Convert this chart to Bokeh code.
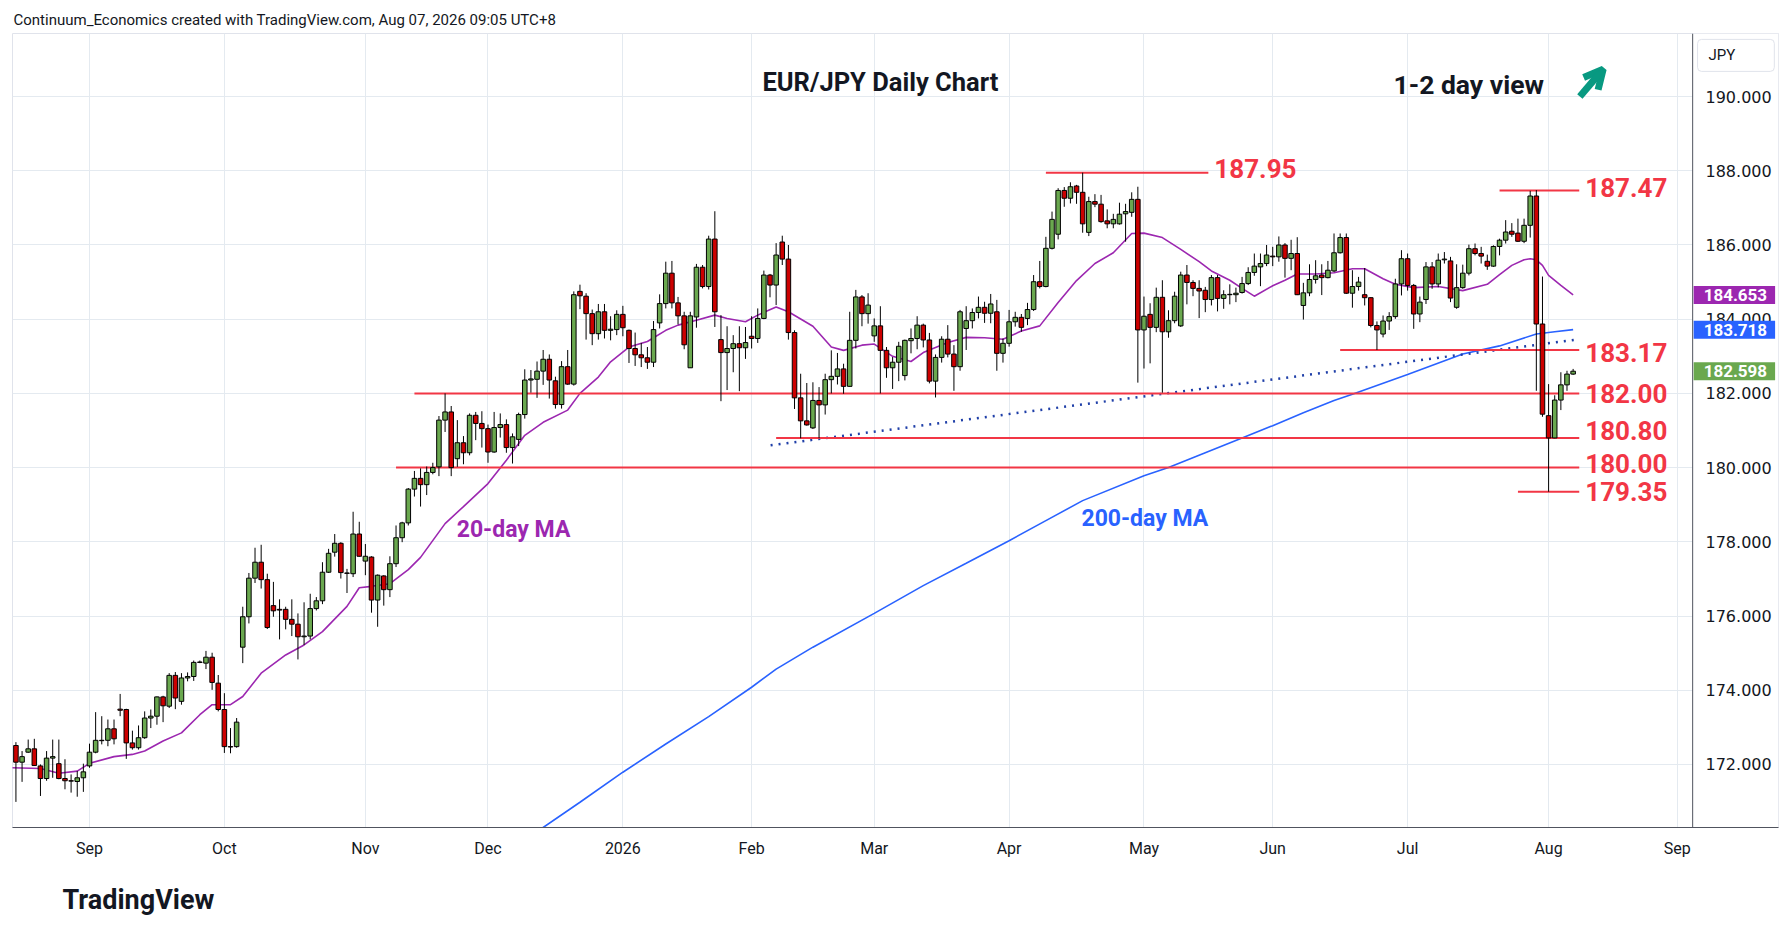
import pandas as pd
from bokeh.plotting import figure
from bokeh.models import (Range1d, FixedTicker, NumeralTickFormatter, Label, Arrow,
                          OpenHead, ColumnDataSource, BoxAnnotation, Span, Title)
from bokeh.core.properties import value
from bokeh.embed import file_html
from bokeh.resources import INLINE

# ---------------- data ----------------
holidays = ["2025-12-25", "2026-01-01"]
calendar = [d.strftime("%Y-%m-%d") for d in pd.bdate_range("2025-08-14", "2026-09-30")
            if d.strftime("%Y-%m-%d") not in holidays]

opens = [
    172.51, 172.06, 172.33, 172.42, 171.96, 171.62, 172.17, 172.02, 171.62, 171.56, 171.54, 171.64,
    171.96, 172.33, 172.65, 172.65, 172.96, 173.49, 173.48, 172.58, 172.45, 172.72, 173.25, 173.30,
    173.82, 173.57, 174.40, 173.70, 174.33, 174.37, 174.75, 174.73, 174.89, 174.19, 173.48, 172.48, 172.48,
    175.16, 175.98, 177.02, 177.45, 176.98, 176.28, 176.18, 176.18, 175.91, 175.78, 175.44, 175.46,
    176.20, 176.41, 177.18, 177.72, 177.96, 177.16, 177.14, 178.21, 177.48, 177.59, 176.43, 177.08,
    176.71, 177.41, 178.11, 178.51, 179.42, 179.71, 179.54, 179.87,
    180.02, 181.28, 181.50, 180.24, 180.67, 180.40, 181.41, 181.19, 181.05, 180.42, 181.08, 181.16,
    180.54, 180.76, 181.43, 182.36, 182.38, 182.60, 182.92, 182.34, 181.70, 182.72, 182.25, 184.75,
    184.62, 184.15, 183.61,
    184.20, 183.70, 183.72, 184.13, 183.70, 183.21, 183.04, 182.96, 182.84, 183.90, 184.42, 185.24,
    184.44, 184.09, 182.69, 184.06, 185.40, 184.88, 186.16, 183.45, 183.10, 183.21, 183.34, 183.23,
    183.54, 183.48, 184.02, 185.19, 184.92, 186.08, 185.62, 183.64, 181.88, 181.26, 181.07, 181.81,
    181.69, 182.37, 182.46, 182.66, 182.19, 183.43, 184.60, 184.15, 183.55, 183.82, 183.16, 182.69,
    182.84, 182.48,
    183.42, 183.48, 183.84, 183.44, 182.33, 182.97, 183.46, 183.06, 182.72, 183.75, 183.96, 184.18,
    184.32, 184.16, 184.20, 183.08, 183.35, 183.93, 184.05, 184.02, 184.26, 185.01, 184.88, 185.91,
    186.29, 187.47, 187.26, 187.59, 187.42, 186.34, 187.17, 187.10, 186.65, 186.57, 186.57, 186.84,
    186.88, 187.23, 183.71, 184.13, 183.78, 184.59, 183.66, 183.96, 183.82,
    185.19, 184.99, 184.83, 184.78, 184.53, 185.12, 184.56, 184.66, 184.66, 184.72, 184.96, 185.26,
    185.41, 185.50, 185.70, 185.68, 186.00, 185.64, 185.77, 184.37, 184.71, 185.07, 185.19, 185.12,
    185.30, 185.79, 186.20, 184.70, 184.88, 184.66, 184.58, 183.83, 183.60, 183.95, 184.07, 184.95,
    185.63, 184.91, 184.14, 184.53, 185.41, 184.95, 185.60, 185.57, 184.32, 184.85, 185.24, 185.90,
    185.77, 185.56, 185.43, 185.96, 186.13, 186.37, 186.32, 186.10, 186.53, 187.32, 183.87, 181.40,
    180.80, 181.82, 182.23, 182.52]

highs = [
    172.60, 172.36, 172.67, 172.69, 172.00, 172.36, 172.67, 172.67, 172.14, 171.73, 171.82, 172.02,
    172.56, 173.41, 173.30, 173.21, 173.21, 173.90, 173.50, 172.91, 173.05, 173.43, 173.48, 173.83,
    173.85, 174.46, 174.49, 174.46, 174.48, 174.80, 174.80, 175.06, 175.01, 174.41, 173.92, 172.98, 173.25,
    176.25, 177.16, 177.84, 177.92, 177.14, 176.92, 176.45, 176.25, 176.45, 176.07, 176.37, 176.60,
    176.51, 177.45, 177.81, 178.21, 177.99, 177.27, 178.81, 178.54, 177.94, 177.61, 177.12, 177.10,
    177.61, 178.44, 178.54, 179.45, 179.91, 179.98, 180.03, 180.13,
    181.39, 182.00, 181.66, 181.28, 180.85, 181.46, 181.50, 181.52, 181.16, 181.50, 181.46, 181.30,
    180.92, 181.48, 182.65, 182.63, 182.86, 183.17, 183.05, 182.45, 182.87, 183.17, 184.75, 184.93,
    184.70, 184.26, 184.41,
    184.41, 184.08, 184.24, 184.36, 183.72, 183.64, 183.36, 183.25, 183.95, 184.67, 185.55, 185.57,
    184.60, 184.20, 184.20, 185.49, 185.46, 186.25, 186.91, 184.11, 183.81, 183.57, 183.81, 183.79,
    184.08, 184.29, 185.31, 185.22, 186.05, 186.25, 186.00, 183.70, 182.53, 182.28, 182.30, 182.17,
    182.53, 183.16, 183.09, 182.80, 184.20, 184.79, 184.65, 184.70, 184.02, 184.35, 183.25, 182.98,
    183.39, 183.45,
    183.75, 184.08, 183.88, 183.63, 183.05, 183.54, 183.84, 183.30, 184.25, 184.35, 184.29, 184.61,
    184.47, 184.68, 184.52, 183.48, 184.25, 184.20, 184.14, 184.44, 185.19, 185.57, 186.22, 186.90,
    187.53, 187.56, 187.69, 187.62, 187.95, 187.30, 187.37, 187.35, 186.96, 186.84, 187.14, 187.11,
    187.42, 187.57, 184.61, 184.43, 184.85, 185.05, 184.24, 184.74, 185.28,
    185.46, 185.05, 185.05, 184.87, 185.19, 185.19, 184.78, 184.94, 184.85, 185.14, 185.40, 185.77,
    185.77, 186.00, 185.95, 186.23, 186.05, 186.14, 186.21, 184.98, 185.48, 185.59, 185.48, 185.57,
    186.31, 186.31, 186.31, 185.32, 185.14, 185.38, 184.59, 183.94, 184.10, 184.19, 185.09, 185.86,
    185.77, 184.95, 184.61, 185.54, 185.54, 185.77, 185.81, 185.68, 185.48, 185.47, 186.01, 186.04,
    185.95, 185.74, 185.99, 186.17, 186.67, 186.59, 186.71, 186.71, 187.46, 187.48, 185.15, 182.25,
    181.95, 182.57, 182.61, 182.66]

lows = [
    170.99, 171.53, 172.31, 171.96, 171.15, 171.56, 171.64, 171.60, 171.33, 171.24, 171.13, 171.26,
    171.91, 172.30, 172.54, 172.49, 172.54, 173.30, 172.15, 172.40, 172.40, 172.69, 172.98, 173.07,
    173.14, 173.52, 173.49, 173.61, 174.24, 174.25, 174.73, 174.57, 174.01, 173.43, 172.31, 172.30, 172.45,
    174.73, 175.80, 176.89, 176.74, 175.65, 175.98, 175.37, 175.64, 175.46, 174.83, 175.22, 175.37,
    176.15, 176.32, 177.16, 177.60, 177.01, 176.62, 177.05, 177.60, 177.10, 176.09, 175.71, 176.28,
    176.51, 177.32, 177.99, 178.44, 179.22, 178.95, 179.26, 179.82,
    179.77, 180.96, 179.77, 180.02, 180.09, 180.33, 180.74, 180.54, 180.13, 180.40, 180.81, 180.40,
    180.11, 180.58, 181.32, 182.02, 181.88, 182.23, 181.86, 181.59, 181.59, 182.23, 182.21, 184.27,
    183.45, 183.30, 183.45,
    183.48, 183.43, 183.57, 183.54, 182.82, 182.74, 182.71, 182.66, 182.71, 183.75, 184.29, 184.29,
    183.86, 183.19, 182.69, 183.77, 184.83, 184.80, 183.79, 181.79, 182.09, 182.57, 182.06, 182.93,
    183.21, 183.36, 184.00, 184.59, 184.38, 185.46, 183.45, 181.58, 180.79, 181.13, 181.04, 180.79,
    181.43, 182.00, 182.24, 181.99, 182.18, 183.21, 183.81, 183.88, 183.39, 182.00, 182.42, 182.12,
    182.33, 182.35,
    183.08, 183.19, 183.24, 182.27, 181.89, 182.83, 182.97, 182.07, 182.61, 183.17, 183.75, 184.02,
    183.90, 183.89, 182.61, 182.83, 183.26, 183.80, 183.66, 183.84, 184.22, 184.83, 184.86, 185.88,
    186.15, 187.03, 187.12, 187.11, 186.33, 186.24, 187.02, 186.60, 186.45, 186.45, 186.55, 186.09,
    186.76, 182.29, 182.67, 182.81, 183.65, 182.02, 183.50, 183.89, 183.79,
    184.40, 184.62, 184.03, 184.19, 184.37, 184.21, 184.28, 184.40, 184.46, 184.69, 184.92, 185.17,
    184.89, 185.43, 185.43, 185.55, 185.12, 185.32, 184.65, 183.99, 184.62, 184.96, 184.65, 185.10,
    185.27, 185.77, 184.68, 184.31, 184.77, 184.37, 183.78, 183.17, 183.51, 183.71, 184.01, 184.64,
    184.77, 183.74, 183.92, 184.41, 184.82, 184.86, 185.50, 184.46, 184.28, 184.82, 185.18, 185.72,
    185.50, 185.33, 185.41, 185.72, 186.04, 186.22, 186.08, 186.05, 186.20, 182.07, 181.37, 179.35,
    180.79, 181.55, 182.07, 182.50]

closes = [
    172.06, 172.21, 172.42, 171.97, 171.62, 172.17, 172.21, 171.62, 171.56, 171.55, 171.64, 171.80,
    172.33, 172.65, 172.64, 172.96, 172.69, 173.46, 172.58, 172.45, 172.72, 173.25, 173.30, 173.82,
    173.58, 174.40, 173.79, 174.33, 174.37, 174.75, 174.76, 174.89, 174.21, 173.48, 172.48, 172.47, 173.14,
    175.98, 177.02, 177.45, 176.98, 175.69, 176.14, 176.16, 175.91, 175.78, 175.44, 175.46, 176.20,
    176.41, 177.18, 177.69, 177.96, 177.17, 177.15, 178.21, 177.61, 177.61, 176.43, 177.10, 176.71,
    177.41, 178.11, 178.51, 179.42, 179.71, 179.54, 179.87, 180.00,
    181.28, 181.50, 180.00, 180.67, 180.40, 181.41, 181.19, 181.05, 180.42, 181.08, 181.16, 180.54,
    180.83, 181.43, 182.36, 182.39, 182.60, 182.92, 182.36, 181.70, 182.72, 182.25, 184.66, 184.63,
    184.15, 183.61, 184.20,
    183.70, 183.73, 184.13, 183.77, 183.21, 183.04, 182.96, 182.84, 183.72, 184.42, 185.24, 184.44,
    184.09, 183.31, 184.09, 185.40, 184.88, 186.16, 184.20, 183.10, 183.21, 183.34, 183.23, 183.37,
    183.48, 184.02, 185.19, 184.92, 185.73, 185.62, 183.64, 181.88, 181.26, 181.15, 181.81, 181.69,
    182.37, 182.46, 182.66, 182.19, 183.43, 184.60, 184.15, 184.38, 183.82, 183.16, 182.69, 182.84,
    183.27, 183.43,
    183.48, 183.84, 183.44, 182.33, 182.97, 183.46, 183.06, 182.72, 184.20, 183.96, 184.18, 184.32,
    184.16, 184.41, 183.08, 183.35, 183.93, 184.05, 183.78, 184.26, 185.01, 184.88, 185.91, 186.69,
    187.47, 187.26, 187.57, 187.42, 186.57, 187.17, 187.10, 186.63, 186.57, 186.69, 186.83, 186.90,
    187.23, 183.71, 184.08, 183.78, 184.59, 183.66, 183.96, 184.62, 185.19,
    184.99, 184.83, 184.76, 184.53, 185.12, 184.56, 184.66, 184.67, 184.70, 184.96, 185.26, 185.43,
    185.50, 185.73, 185.68, 186.00, 185.64, 185.77, 184.66, 184.71, 185.07, 185.17, 185.12, 185.32,
    185.79, 186.20, 184.70, 184.88, 185.00, 184.58, 183.83, 183.71, 183.95, 184.07, 184.95, 185.63,
    184.91, 184.14, 184.46, 185.41, 184.95, 185.59, 185.62, 184.57, 184.85, 185.24, 185.90, 185.77,
    185.70, 185.43, 185.96, 186.13, 186.35, 186.29, 186.10, 186.53, 187.32, 183.87, 181.44, 180.80,
    181.82, 182.23, 182.52, 182.598]

# moving averages (bar number counted from 1 Sep 2025)
ma20_bar = [-13, -8, -5, -2, 0, 4, 7, 9, 12, 15, 18, 20, 23, 25, 28, 32, 35, 38, 42, 44, 46, 49,
            52, 54, 58, 61, 65, 68, 71, 74, 78, 80, 83, 85, 88, 91, 94, 96, 99, 102, 104, 107,
            109, 112, 114, 118, 121, 123, 126, 128, 131, 134, 136, 140, 143, 146, 149, 152, 155,
            158, 161, 164, 167, 170, 172, 175, 178, 181, 183, 186, 188, 190, 193, 195, 197, 200,
            203, 206, 208, 211, 213, 216, 220, 224, 228, 230, 232, 234, 235, 236, 237, 238, 240, 242]
ma20 = [171.91, 171.89, 171.76, 171.82, 172.03, 172.21, 172.27, 172.36, 172.63, 172.85, 173.34,
        173.61, 173.61, 173.83, 174.46, 174.95, 175.22, 175.58, 176.26, 176.76, 176.80, 176.87,
        177.25, 177.58, 178.49, 178.95, 179.57, 180.20, 180.87, 181.22, 181.55, 182.00, 182.44,
        182.85, 183.25, 183.40, 183.70, 183.84, 183.97, 184.11, 184.02, 183.93, 184.11, 184.33,
        184.20, 183.81, 183.25, 183.16, 183.30, 183.33, 183.00, 182.86, 183.10, 183.37, 183.51,
        183.50, 183.46, 183.68, 183.82, 184.45, 185.04, 185.50, 185.79, 186.31, 186.32, 186.20,
        185.88, 185.55, 185.30, 185.05, 184.83, 184.62, 184.90, 185.05, 185.22, 185.22, 185.25,
        185.36, 185.36, 185.09, 184.94, 184.85, 184.88, 184.77, 184.94, 185.20, 185.45, 185.60,
        185.63, 185.60, 185.45, 185.18, 184.91, 184.653]

ma200_bar = [72, 74, 80, 87, 94, 101, 108, 112, 118, 128, 136, 143, 150, 156, 162, 172, 176, 182,
             188, 193, 198, 203, 206, 215, 224, 230, 236, 239, 242]
ma200 = [170.05, 170.30, 170.98, 171.79, 172.55, 173.29, 174.08, 174.57, 175.16, 176.07, 176.82,
         177.42, 178.03, 178.57, 179.11, 179.78, 180.00, 180.40, 180.80, 181.13, 181.48, 181.81,
         181.98, 182.51, 183.06, 183.28, 183.60, 183.66, 183.718]

trend_bar = [111.1, 242.1]
trend_val = [180.60, 183.44]

levels = [187.95, 187.47, 183.17, 182.00, 180.80, 180.00, 179.35]
level_from = [156, 230, 204, 53, 112, 50, 233]
level_to = [182.5, 243, 243, 243, 243, 243, 243]

price_ticks = [172.0, 174.0, 176.0, 178.0, 180.0, 182.0, 184.0, 186.0, 188.0, 190.0]
month_names = ["Jan", "Feb", "Mar", "Apr", "May", "Jun", "Jul", "Aug", "Sep", "Oct", "Nov", "Dec"]

last_price = closes[-1]
last_ma20 = ma20[-1]
last_ma200 = ma200[-1]

# ---------------- derived positions ----------------
n = len(opens)
dates = calendar[:n]
origin = calendar.index("2025-09-01")
bars = [i - origin for i in range(n)]

tick_bars, tick_labels = [], {}
for i in range(1, len(calendar)):
    if calendar[i][5:7] != calendar[i - 1][5:7]:
        b = i - origin
        m = int(calendar[i][5:7])
        tick_bars.append(b)
        tick_labels[b] = calendar[i][:4] if m == 1 else month_names[m - 1]

GREEN = "#6AA84F"
RED = "#CC0000"
up = [c >= o for o, c in zip(opens, closes)]
src = ColumnDataSource(dict(
    x=bars, date=dates, open=opens, high=highs, low=lows, close=closes,
    top=[max(o, c) for o, c in zip(opens, closes)],
    bottom=[min(o, c) for o, c in zip(opens, closes)],
    color=[GREEN if u else RED for u in up]))

# ---------------- figure ----------------
X0, X1 = -12.56, 275.5        # frame covers chart pane + price-scale pane
SCALE_EDGE = 261.5            # where the price scale pane begins
p = figure(width=1790, height=940, x_range=Range1d(X0, X1), y_range=Range1d(170.30, 191.70),
           y_axis_location="right", output_backend="svg", toolbar_location=None,
           min_border_left=12, min_border_top=33, min_border_right=12, min_border_bottom=113)
p.background_fill_color = "white"
p.border_fill_color = "white"
p.outline_line_color = "#E0E3EB"

p.title.text = "Continuum_Economics created with TradingView.com, Aug 07, 2026 09:05 UTC+8"
p.title.align = "left"
p.title.text_font = "Roboto"
p.title.text_font_size = "15px"
p.title.text_font_style = "normal"
p.title.text_color = "#131722"
p.title.offset = 1

grid_col = "#E4EAF0"
p.xgrid.grid_line_color = grid_col
p.ygrid.grid_line_color = grid_col

p.yaxis.ticker = FixedTicker(ticks=price_ticks)
p.yaxis.formatter = NumeralTickFormatter(format="0.000")
p.yaxis.major_label_text_font = "DejaVu Sans"
p.yaxis.major_label_text_font_size = "16px"
p.yaxis.major_label_text_color = "#131722"
p.yaxis.major_label_standoff = -73
p.yaxis.axis_line_color = None

p.xaxis.ticker = FixedTicker(ticks=tick_bars)
p.xaxis.major_label_overrides = tick_labels
p.xaxis.major_label_text_font = "Roboto"
p.xaxis.major_label_text_font_size = "16px"
p.xaxis.major_label_text_color = "#131722"
p.xaxis.major_label_standoff = 11
p.xaxis.axis_line_color = "#50535E"

for ax in (p.xaxis, p.yaxis):
    ax.major_tick_line_color = None
    ax.minor_tick_line_color = None
    ax.major_tick_out = 0
    ax.major_tick_in = 0

# price scale pane: hide grid there, separator line
p.add_layout(BoxAnnotation(left=SCALE_EDGE, fill_color="white", fill_alpha=1.0,
                           line_color=None, level="underlay"))
p.add_layout(Span(location=SCALE_EDGE, dimension="height", line_color="#50535E", line_width=1))

# moving averages and trend line
p.line(ma200_bar, ma200, line_color="#2962FF", line_width=1.6)
p.line(ma20_bar, ma20, line_color="#9C27B0", line_width=1.6)
p.line(trend_bar, trend_val, line_color="#1F3FA8", line_width=2.5, line_dash="2 6")

# horizontal levels
lv = ColumnDataSource(dict(x0=level_from, x1=level_to, y=levels,
                           text=["%.2f" % v for v in levels],
                           dy=[-4, -3, 3, 0, -7, -4, 0]))
p.segment(x0="x0", y0="y", x1="x1", y1="y", source=lv, line_color="#F23645", line_width=2)
p.text(x="x1", y="y", text="text", source=lv, x_offset=6, y_offset="dy",
       text_font=value("Roboto"), text_font_style="bold", text_font_size="26px",
       text_color="#F23645", text_baseline="middle", text_align="left")

# candles
p.segment(x0="x", y0="low", x1="x", y1="high", source=src, line_color="black", line_width=1)
p.vbar(x="x", width=0.74, top="top", bottom="bottom", source=src, fill_color="color",
       line_color="black", line_width=1)

# texts
p.add_layout(Label(x=129, y=190.38, text="EUR/JPY Daily Chart", text_font="Roboto",
                   text_font_style="bold", text_font_size="25.5px", text_color="#131722",
                   text_align="center", text_baseline="middle"))
p.add_layout(Label(x=212.7, y=190.33, text="1-2 day view", text_font="Roboto",
                   text_font_style="bold", text_font_size="26.5px", text_color="#131722",
                   text_align="left", text_baseline="middle"))
p.add_layout(Arrow(x_start=243.1, y_start=190.00, x_end=246.9, y_end=190.74,
                   line_color="#089981", line_width=7,
                   end=OpenHead(line_color="#089981", line_width=7, size=19)))
p.add_layout(Label(x=59.9, y=178.33, text="20-day MA", text_font="Roboto",
                   text_font_style="bold", text_font_size="23px", text_color="#9C27B0",
                   text_align="left", text_baseline="middle"))
p.add_layout(Label(x=161.8, y=178.63, text="200-day MA", text_font="Roboto",
                   text_font_style="bold", text_font_size="23px", text_color="#2962FF",
                   text_align="left", text_baseline="middle"))

# footer
p.add_layout(Title(text="TradingView", align="left", offset=50, standoff=43, text_font="Roboto",
                   text_font_style="bold", text_font_size="27px", text_color="#131722"), "below")

# price scale boxes
p.add_layout(Label(x=262.3, y=191.11, text="JPY", text_font="Roboto", text_font_size="15px",
                   text_color="#131722", text_align="left", text_baseline="middle",
                   background_fill_color="white", border_line_color="#E0E3EB",
                   padding=dict(left=11, right=39, top=7, bottom=7), border_radius=4))
for val, col in ((last_ma20, "#9C27B0"), (last_ma200, "#2962FF"), (last_price, GREEN)):
    p.add_layout(Label(x=261.66, y=val, text="%.3f" % val, text_font="Roboto",
                       text_font_style="bold", text_font_size="17px", text_color="white",
                       text_align="left", text_baseline="middle",
                       background_fill_color=col,
                       padding=dict(left=10, right=8, top=3, bottom=3)))

open("out.html", "w").write(file_html(p, INLINE))
